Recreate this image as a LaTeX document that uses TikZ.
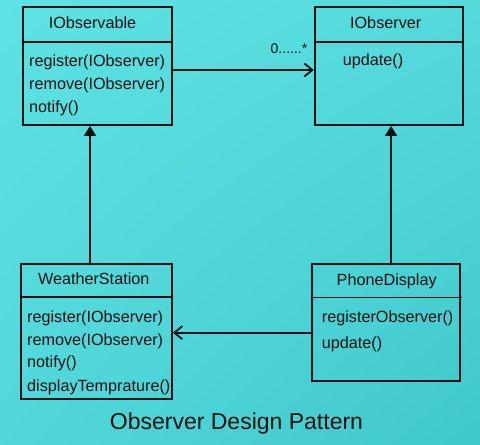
\documentclass[tikz,border=0pt]{standalone}
\usepackage{fontspec}
\setmainfont{Liberation Sans}
\usetikzlibrary{arrows.meta,calc,shadings}
\definecolor{bgA}{HTML}{5EE2E4}
\definecolor{bgB}{HTML}{3FC8CA}
\definecolor{ink}{HTML}{111111}
\tikzset{
  classbox/.style={draw=ink,line width=1.8pt,rectangle,inner sep=0pt},
  divider/.style={draw=ink,line width=1.8pt},
  conn/.style={draw=ink,line width=1.8pt},
  ttl/.style={text=ink,font=\fontsize{16.2}{18}\selectfont,inner sep=0pt,anchor=base},
  meth/.style={text=ink,font=\fontsize{16.2}{18}\selectfont,inner sep=0pt,anchor=base west},
  inherit/.style={conn,-{Triangle[length=10pt,width=12pt]}},
  assoc/.style={conn,-{Straight Barb[length=8pt,width=13pt,line width=1.8pt]}}
}
\begin{document}
\begin{tikzpicture}[x=1pt,y=-1pt]
\useasboundingbox (0,0) rectangle (480,445);
\shade[upper left=bgA,upper right=bgA!70!bgB,lower left=bgA!60!bgB,lower right=bgB] (0,0) rectangle (480,445);
% boxes
\node[classbox,minimum width=149.3pt,minimum height=117.7pt] (obs) at (97.35,66.15) {};
\node[classbox,minimum width=148pt,minimum height=117.7pt] (obsr) at (388.7,66.15) {};
\node[classbox,minimum width=151pt,minimum height=134.7pt] (ws) at (96.5,331.35) {};
\node[classbox,minimum width=148.3pt,minimum height=116.7pt] (pd) at (385.85,322.35) {};
% dividers
\draw[divider] (obs.west |- 0,42) -- (obs.east |- 0,42);
\draw[divider] (obsr.west |- 0,42) -- (464,42);
\draw[divider] (ws.west |- 0,297) -- (ws.east |- 0,297);
\draw[divider] (pd.west |- 0,297.5) -- (461.7,297.5);
% titles
\node[ttl] (tobs) at (92.5,28.5) {IObservable};
\node[ttl] (tobsr) at (385.7,28.5) {IObserver};
\node[ttl] (tws) at (93.7,284.5) {WeatherStation};
\node[ttl] (tpd) at (386.7,285.5) {PhoneDisplay};
% methods
\node[meth] (m1) at (29,66.5) {register(IObserver)};
\node[meth] (m2) at (29,89.5) {remove(IObserver)};
\node[meth] (m3) at (29,112) {notify()};
\node[meth] (m4) at (342.7,65.5) {update()};
\node[meth] (m5) at (27,322) {register(IObserver)};
\node[meth] (m6) at (27,345.5) {remove(IObserver)};
\node[meth] (m7) at (27,367.5) {notify()};
\node[meth] (m8) at (27,391.5) {displayTemprature()};
\node[meth] (m9) at (321.7,322) {registerObserver()};
\node[meth] (m10) at (321.7,348) {update()};
% connectors
\coordinate (ya) at (0,70);
\coordinate (yb) at (0,332.7);
\coordinate (xa) at (90,0);
\coordinate (xb) at (391,0);
\draw[assoc] (obs.east |- ya) -- (obsr.west |- ya);
\node[text=ink,font=\fontsize{14}{16}\selectfont,inner sep=0pt,anchor=base] (mult) at (289,53) {0......*};
\draw[assoc] (pd.west |- yb) -- (ws.east |- yb);
\draw[inherit] (ws.north -| xa) -- (obs.south -| xa);
\draw[inherit] (pd.north -| xb) -- (obsr.south -| xb);
% caption
\node[text=ink,font=\fontsize{23}{26}\selectfont,inner sep=0pt,anchor=base] (cap) at (236.5,429) {Observer Design Pattern};
\end{tikzpicture}
\end{document}
